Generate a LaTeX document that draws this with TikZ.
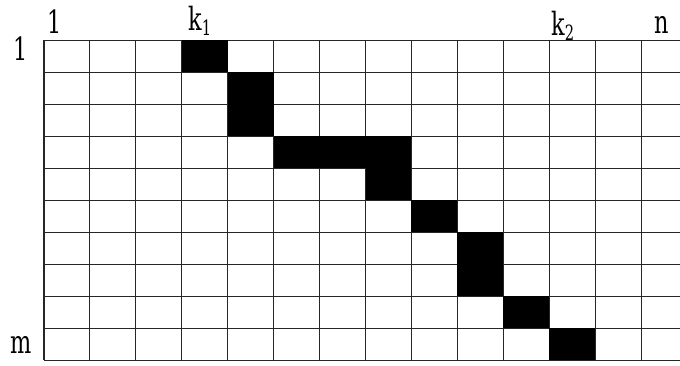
\documentclass[tikz,border=0pt]{standalone}
\usepackage{fontspec}
\setmainfont{DejaVu Serif}
\newcommand{\nx}[1]{\scalebox{0.7}[1]{#1}}
\newcommand{\subx}[1]{\raisebox{-0.18em}{\fontsize{21}{21}\selectfont\nx{#1}}}
\begin{document}
\begin{tikzpicture}[x=1pt,y={(0pt,-1pt)},
  lab/.style={inner sep=0pt, anchor=base west, font=\fontsize{32}{32}\selectfont},
  gridline/.style={line width=1.1pt, black!85}]
\useasboundingbox (0,0) rectangle (680,365);
\begin{scope}
\clip (0,0) rectangle (680,365);
\foreach \i in {0,...,14}
  \draw[gridline] ({44+45.93*\i},40.3) -- ({44+45.93*\i},360.3);
\foreach \j in {0,...,10}
  \draw[gridline] (44,{40.3+32*\j}) -- (690,{40.3+32*\j});
\foreach \c/\r/\w/\h in {4/1/1/1, 5/2/1/2, 6/4/3/1, 8/5/1/1, 9/6/1/1, 10/7/1/2, 11/9/1/1, 12/10/1/1}
  \fill[black] ({44+45.93*(\c-1)},{40.3+32*(\r-1)}) rectangle ++({45.93*\w},{32*\h});
\end{scope}
\node[lab] (c1) at (47,33) {\nx{1}};
\node[lab] (ck1) at (188,30) {\nx{k}\subx{1}};
\node[lab] (ck2) at (551,35) {\nx{k}\subx{2}};
\node[lab] (cn) at (654,33) {\nx{n}};
\node[lab] (r1) at (13,60) {\nx{1}};
\node[lab] (rm) at (10,353) {\nx{m}};
\end{tikzpicture}
\end{document}
